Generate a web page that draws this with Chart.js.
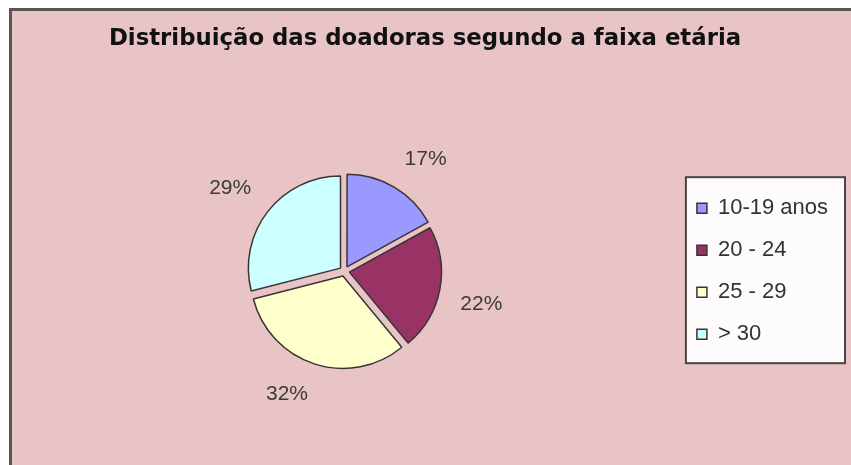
<!DOCTYPE html>
<html>
<head>
<meta charset="utf-8">
<script src="https://cdn.jsdelivr.net/npm/chart.js@4.4.0/dist/chart.umd.min.js"></script>
<style>
  body { margin: 0; background: #ffffff; }
  #frame {
    position: absolute; left: 9px; top: 8px; width: 850px; height: 470px;
    border-left: 3px solid #5a5456; border-top: 3px solid #5a5456;
    background: #e8c4c6;
  }
  #chartDiv { position: absolute; left: 0; top: 0; width: 851px; height: 465px; }
</style>
</head>
<body>
<div id="frame"></div>
<div id="chartDiv"><canvas id="pie" width="851" height="465"></canvas></div>
<script>
const titleText = "Distribuição das doadoras segundo a faixa etária";
const ageGroups = ["10-19 anos", "20 - 24", "25 - 29", "> 30"];
const percentages = [17, 22, 32, 29];
const sliceColors = ["#9999ff", "#993366", "#ffffcc", "#ccffff"];

// white box with a border behind the legend items
const legendBox = {
    id: "legendBox",
    beforeDraw: (chart) => {
        const boxes = chart.legend.legendHitBoxes;
        if (!boxes || boxes.length == 0) return;
        const ctx = chart.ctx;
        let left = Math.min(...boxes.map(b => b.left)) - 11;
        let top = Math.min(...boxes.map(b => b.top)) - 20;
        let bottom = Math.max(...boxes.map(b => b.top + b.height)) + 18;
        let right = 845;
        ctx.save();
        ctx.fillStyle = "#fdfbfb";
        ctx.strokeStyle = "#4a4446";
        ctx.lineWidth = 2;
        ctx.fillRect(left, top, right - left, bottom - top);
        ctx.strokeRect(left, top, right - left, bottom - top);
        ctx.restore();
    }
};

// percent labels outside each slice, anchored by their nearest corner
const sliceLabels = {
    id: "sliceLabels",
    afterDatasetsDraw: (chart) => {
        const ctx = chart.ctx;
        const meta = chart.getDatasetMeta(0);
        ctx.save();
        ctx.font = "21px 'Liberation Sans', Arial, sans-serif";
        ctx.fillStyle = "#3a3a3a";
        meta.data.forEach((arc, index) => {
            const p = arc.getProps(["x", "y", "startAngle", "endAngle", "outerRadius"], true);
            const mid = (p.startAngle + p.endAngle) / 2;
            const r = p.outerRadius + 26;
            const cx = Math.cos(mid);
            const cy = Math.sin(mid);
            ctx.textAlign = cx >= 0 ? "left" : "right";
            ctx.textBaseline = cy >= 0 ? "top" : "bottom";
            ctx.fillText(percentages[index] + "%", p.x + cx * r, p.y + cy * r);
        });
        ctx.restore();
    }
};

const ctx = document.getElementById("pie").getContext("2d");
const myChart = new Chart(ctx, {
    type: "pie",
    data: {
        labels: ageGroups,
        datasets: [{
            data: percentages,
            backgroundColor: sliceColors,
            borderColor: "#3a3434",
            borderWidth: 1.5,
            offset: 20,
        }],
    },
    options: {
        responsive: false,
        animation: false,
        radius: 92,
        layout: { padding: { left: 12, right: 13, top: 0, bottom: 0 } },
        plugins: {
            title: {
                display: true,
                text: titleText,
                color: "#111111",
                font: { family: "'DejaVu Sans', sans-serif", size: 22.8, weight: "bold" },
                padding: { top: 25, bottom: 25 },
            },
            legend: {
                position: "right",
                align: "center",
                fullSize: false,
                labels: {
                    boxWidth: 10,
                    boxHeight: 10,
                    padding: 20,
                    color: "#333333",
                    font: { family: "'Liberation Sans', Arial, sans-serif", size: 22 },
                },
            },
            tooltip: { enabled: false },
        },
    },
    plugins: [legendBox, sliceLabels],
});
</script>
</body>
</html>
